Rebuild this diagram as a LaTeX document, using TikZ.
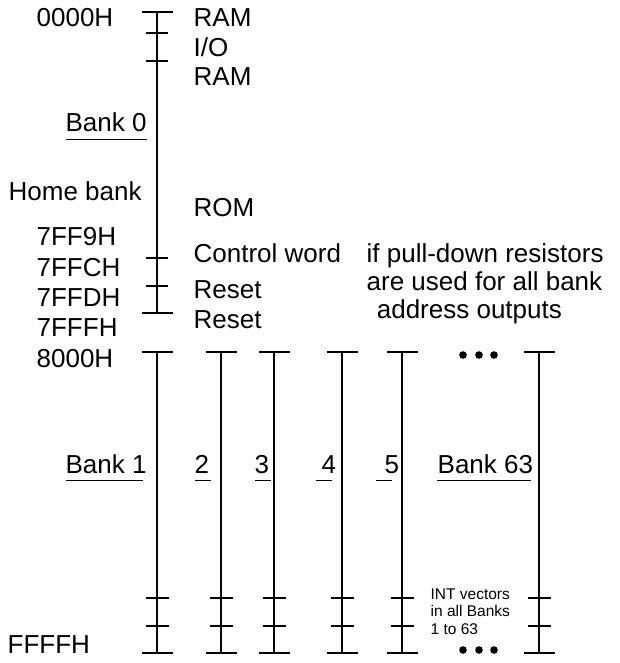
\documentclass[tikz,border=0pt]{standalone}
\usepackage{fontspec}
\setmainfont{Liberation Sans}
\usetikzlibrary{positioning}

\begin{document}
\begin{tikzpicture}[
    x=1pt, y=-1pt,
    line width=1.3pt,
    lbl/.style={font=\fontsize{26}{28}\selectfont, inner sep=0pt, anchor=base west},
    note/.style={font=\fontsize{15.5}{17.5}\selectfont, inner sep=0pt, anchor=base west, align=left},
    uline/.style={line width=1pt},
    dot/.style={fill=black, draw=none}
]
\useasboundingbox (0,0) rectangle (620,663);

% home bank
\draw (157,12) -- (157,313);
\foreach \y in {12,313} \draw (141.5,\y) -- ++(31,0);
\foreach \y in {33,61,258,286} \draw (146,\y) -- ++(22,0);

% banks 1 to 63
\foreach \x in {157,221,274,342,402,539} {
  \draw (\x,352) -- (\x,653);
  \draw (\x-15.5,352) -- ++(31,0);
  \draw (\x-15.5,653) -- ++(31,0);
  \draw (\x-11,598) -- ++(23,0);
  \draw (\x-11,626) -- ++(23,0);
}

% addresses
\node[lbl] (a0000) at (36,27) {0000H};
\node[lbl] (a7ff9) at (36,245) {7FF9H};
\node[lbl] (a7ffc) at (36,276) {7FFCH};
\node[lbl] (a7ffd) at (36,306) {7FFDH};
\node[lbl] (a7fff) at (36,336) {7FFFH};
\node[lbl] (a8000) at (36,367) {8000H};
\node[lbl] (affff) at (7,653) {FFFFH};

% contents of bank 0
\node[lbl] (ram1) at (193,27) {RAM};
\node[lbl] (io) at (193,57) {I/O};
\node[lbl] (ram2) at (193,86) {RAM};
\node[lbl] (rom) at (193,216) {ROM};
\node[lbl] (ctrl) at (193,262) {Control word};
\node[lbl] (reset1) at (193,298) {Reset};
\node[lbl] (reset2) at (193,328) {Reset};

\node[lbl] (pull1) at (366,262) {if pull-down resistors};
\node[lbl] (pull2) at ([yshift=-28pt]pull1.base west) {are used for all bank};
\node[lbl] (pull3) at (369,318) {\ address outputs};

% bank names
\node[lbl] (bank0) at (65,132) {Bank 0};
\node[lbl] (home) at (8,200) {Home bank};
\node[lbl] (bank1) at (65,473) {Bank 1};
\node[lbl] (bank2) at (194,473) {2};
\node[lbl] (bank3) at (254,473) {3};
\node[lbl] (bank4) at (321,473) {4};
\node[lbl] (bank5) at (384,473) {5};
\node[lbl] (bank63) at (437,473) {Bank 63};

\draw[uline] (66,140) -- (147,140);
\draw[uline] (66,480) -- (143,480);
\draw[uline] (195,480) -- (211,480);
\draw[uline] (255,480) -- (271,480);
\draw[uline] (316,480) -- (332,480);
\draw[uline] (376,480) -- (392,480);
\draw[uline] (437,480) -- (531,480);

\node[note] (intvec) at (430,634) {INT vectors\\in all Banks\\1 to 63};

% dots
\foreach \x in {463,479,494} {
  \fill[dot] (\x,355) circle (3.8);
  \fill[dot] (\x,650) circle (3.8);
}

\end{tikzpicture}
\end{document}
